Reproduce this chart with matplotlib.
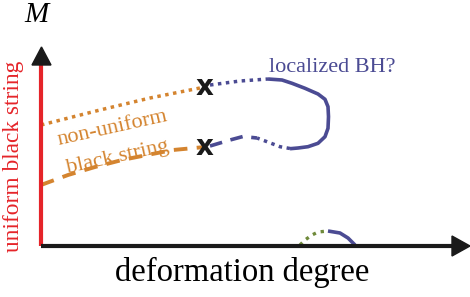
import matplotlib
matplotlib.use("Agg")
import matplotlib.pyplot as plt
from matplotlib.patches import Polygon

# ---- data (schematic units: x = deformation degree, y = mass M) ----
nubs_upper_x = [0, 59, 109, 164]
nubs_upper_y = [121, 136, 148, 159]
nubs_lower_x = [0, 27, 54, 81, 106, 132, 164]
nubs_lower_y = [61, 71, 79, 86, 91, 96, 99]
x_marks_x = [164, 164]
x_marks_y = [159, 99]
bh_dot_up_x = [169, 199, 227]
bh_dot_up_y = [161, 165, 167]
bh_solid_x = [227, 241, 251, 264, 277, 284, 287, 287.5, 287, 284, 277, 267, 257, 249]
bh_solid_y = [167, 166, 162.7, 157.7, 152, 146.7, 139.3, 129.3, 117.7, 109.3, 102.7, 99.3, 98, 97.3]
bh_dot_low_x = [249, 239, 226, 216]
bh_dot_low_y = [97.5, 99.3, 104.3, 108]
bh_dash_low_x = [169, 189, 202, 216]
bh_dash_low_y = [100, 106, 109.5, 108]
green_x = [259, 264, 271, 277, 287]
green_y = [1, 6, 11, 14, 15]
small_bh_x = [287, 299, 307, 314]
small_bh_y = [15, 13, 8, 1]

ORANGE = '#D4842F'
BLUE = '#4B4B93'
RED = '#E52429'
GREEN = '#6F8A3A'
SERIF = 'Liberation Serif'

fig = plt.figure(figsize=(4.7, 2.97), dpi=100)
ax = fig.add_axes([0, 0, 1, 1])
ax.set_xlim(-41, 429)
ax.set_ylim(-51, 246)
ax.axis('off')

# axes
ax.plot([0, 0], [0, 185], color=RED, lw=3.0, solid_capstyle='butt', zorder=3)
ax.plot([0, 412], [0, 0], color='#1a1a1a', lw=3.0, solid_capstyle='butt', zorder=3)
ax.add_patch(Polygon([[-9, 181], [10, 181], [0.5, 199]], closed=True, color='#1a1a1a', zorder=4))
ax.add_patch(Polygon([[411, 10], [411, -10], [429, 0]], closed=True, color='#1a1a1a', zorder=4))

# curves
ax.plot(nubs_upper_x, nubs_upper_y, color=ORANGE, lw=2.5, ls=(0, (1, 1.3)), dash_capstyle='butt')
ax.plot(nubs_lower_x, nubs_lower_y, color=ORANGE, lw=2.8, ls=(0, (3.5, 2.4)), dash_capstyle='butt')
ax.plot(bh_dot_up_x, bh_dot_up_y, color=BLUE, lw=2.5, ls=(0, (1, 1.3)), dash_capstyle='butt')
ax.plot(bh_solid_x, bh_solid_y, color=BLUE, lw=2.6, solid_joinstyle='round', solid_capstyle='butt')
ax.plot(bh_dot_low_x, bh_dot_low_y, color=BLUE, lw=2.5, ls=(0, (1, 1.3)), dash_capstyle='butt')
ax.plot(bh_dash_low_x, bh_dash_low_y, color=BLUE, lw=2.6, ls=(0, (3.5, 2.4)), dash_capstyle='butt')
ax.plot(green_x, green_y, color=GREEN, lw=2.4, ls=(0, (1, 1.5)), dash_capstyle='butt')
ax.plot(small_bh_x, small_bh_y, color=BLUE, lw=2.6, solid_capstyle='butt', solid_joinstyle='round')

for xm, ym in zip(x_marks_x, x_marks_y):
    ax.text(xm, ym, 'x', fontsize=20, fontweight='bold', family='DejaVu Sans',
            ha='center', va='center', color='#1a1a1a', zorder=5)

# labels
ax.text(-5, 231, 'M', fontsize=21, family=SERIF, style='italic', ha='center', va='center')
ax.text(-27, 90, 'uniform black string', fontsize=16.8, family=SERIF, color=RED,
        rotation=90, ha='center', va='center')
ax.text(201, -26, 'deformation degree', fontsize=23.5, family=SERIF, ha='center', va='center')
ax.text(291, 178, 'localized BH?', fontsize=16, family=SERIF, color=BLUE, ha='center', va='center')
ax.text(71, 118, 'non-uniform', fontsize=16, family=SERIF, color=ORANGE,
        rotation=12.5, ha='center', va='center', rotation_mode='anchor')
ax.text(77, 89, 'black string', fontsize=16, family=SERIF, color=ORANGE,
        rotation=12.5, ha='center', va='center', rotation_mode='anchor')

fig.savefig('out.png', dpi=100)
